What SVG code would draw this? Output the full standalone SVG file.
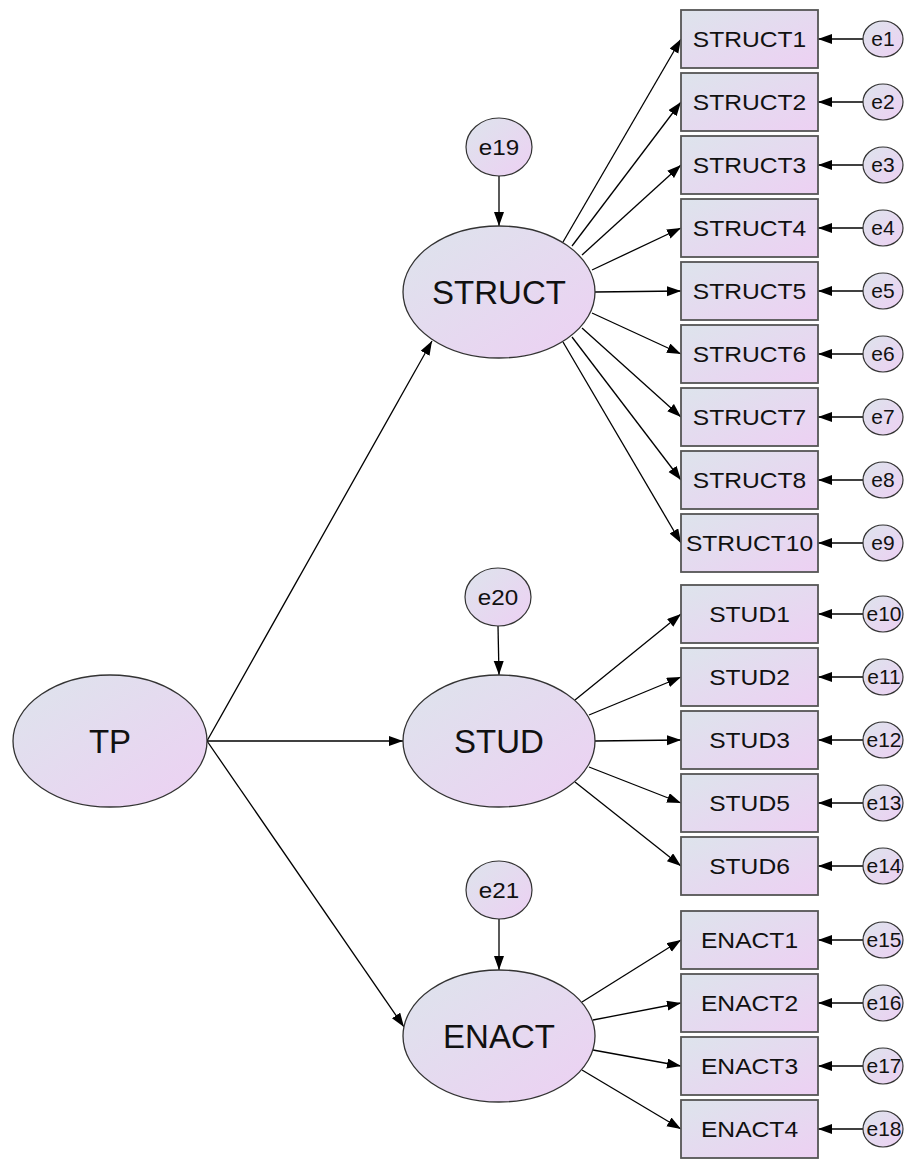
<svg xmlns="http://www.w3.org/2000/svg" width="910" height="1159" viewBox="0 0 910 1159">
<defs>
<linearGradient id="g" x1="0" y1="0" x2="1" y2="1">
<stop offset="0" stop-color="#dde4ec"/>
<stop offset="1" stop-color="#edd0f3"/>
</linearGradient>
<marker id="ah" markerUnits="userSpaceOnUse" markerWidth="16" markerHeight="12" refX="14" refY="5" orient="auto">
<path d="M0,0 L14,5 L0,10 z" fill="#000"/>
</marker>
</defs>
<style>
.lat{fill:url(#g);stroke:#333;stroke-width:1.3}
.obs{fill:url(#g);stroke:#555;stroke-width:1.8}
.err{fill:url(#g);stroke:#333;stroke-width:1.2}
.big{font-family:"Liberation Sans",Arial,sans-serif;font-size:33px;fill:#111;text-anchor:middle}
.lbl{font-family:"Liberation Sans",Arial,sans-serif;font-size:22px;fill:#111;text-anchor:middle}
.el{font-family:"Liberation Sans",Arial,sans-serif;font-size:20px;fill:#111;text-anchor:middle}
.conn path{stroke:#000;stroke-width:1.3;fill:none;marker-end:url(#ah)}
</style>
<g id="connectors" class="conn">
<path d="M207,741 L432,341"/>
<path d="M207,741 L403,741"/>
<path d="M207,741 L404,1027"/>
<path d="M499,175 L499,226"/>
<path d="M498,626 L499,675"/>
<path d="M499,919 L499,970"/>
<path d="M563,242 L681,39"/>
<path d="M572,246 L681,102"/>
<path d="M582,255 L681,165"/>
<path d="M592,270 L681,228"/>
<path d="M595,292 L681,291"/>
<path d="M592,313 L681,354"/>
<path d="M582,328 L681,417"/>
<path d="M572,337 L681,480"/>
<path d="M563,342 L681,543"/>
<path d="M575,700 L681,614"/>
<path d="M589,715 L681,677"/>
<path d="M595,741 L681,740"/>
<path d="M589,767 L681,803"/>
<path d="M575,782 L681,866"/>
<path d="M582,1002 L681,940"/>
<path d="M593,1020 L681,1003"/>
<path d="M593,1050 L681,1066"/>
<path d="M582,1070 L681,1129"/>
<path d="M863,39 L818,39"/>
<path d="M863,102 L818,102"/>
<path d="M863,165 L818,165"/>
<path d="M863,228 L818,228"/>
<path d="M863,291 L818,291"/>
<path d="M863,354 L818,354"/>
<path d="M863,417 L818,417"/>
<path d="M863,480 L818,480"/>
<path d="M863,543 L818,543"/>
<path d="M863,614 L818,614"/>
<path d="M863,677 L818,677"/>
<path d="M863,740 L818,740"/>
<path d="M863,803 L818,803"/>
<path d="M863,866 L818,866"/>
<path d="M863,940 L818,940"/>
<path d="M863,1003 L818,1003"/>
<path d="M863,1066 L818,1066"/>
<path d="M863,1129 L818,1129"/>
</g>
<g id="TP"><ellipse class="lat" cx="110" cy="741" rx="97" ry="66"/><text class="big" x="110" y="753">TP</text></g>
<g id="STRUCT"><ellipse class="lat" cx="499" cy="292" rx="96" ry="66"/><text class="big" x="499" y="304">STRUCT</text></g>
<g id="STUD"><ellipse class="lat" cx="499" cy="741" rx="96" ry="66"/><text class="big" x="499" y="753">STUD</text></g>
<g id="ENACT"><ellipse class="lat" cx="499" cy="1036" rx="96" ry="66"/><text class="big" x="499" y="1048">ENACT</text></g>
<g id="e19"><ellipse class="err" cx="499" cy="147" rx="33" ry="29"/><text class="lbl" transform="translate(499,155) scale(1.1,1)">e19</text></g>
<g id="e20"><ellipse class="err" cx="498" cy="597" rx="33" ry="29"/><text class="lbl" transform="translate(498,605) scale(1.1,1)">e20</text></g>
<g id="e21"><ellipse class="err" cx="499" cy="890" rx="33" ry="29"/><text class="lbl" transform="translate(499,898) scale(1.1,1)">e21</text></g>
<g id="STRUCT1"><rect class="obs" x="681" y="10" width="137" height="58"/><text class="lbl" transform="translate(749.5,47) scale(1.12,1)">STRUCT1</text></g>
<g id="STRUCT2"><rect class="obs" x="681" y="73" width="137" height="58"/><text class="lbl" transform="translate(749.5,110) scale(1.12,1)">STRUCT2</text></g>
<g id="STRUCT3"><rect class="obs" x="681" y="136" width="137" height="58"/><text class="lbl" transform="translate(749.5,173) scale(1.12,1)">STRUCT3</text></g>
<g id="STRUCT4"><rect class="obs" x="681" y="199" width="137" height="58"/><text class="lbl" transform="translate(749.5,236) scale(1.12,1)">STRUCT4</text></g>
<g id="STRUCT5"><rect class="obs" x="681" y="262" width="137" height="58"/><text class="lbl" transform="translate(749.5,299) scale(1.12,1)">STRUCT5</text></g>
<g id="STRUCT6"><rect class="obs" x="681" y="325" width="137" height="58"/><text class="lbl" transform="translate(749.5,362) scale(1.12,1)">STRUCT6</text></g>
<g id="STRUCT7"><rect class="obs" x="681" y="388" width="137" height="58"/><text class="lbl" transform="translate(749.5,425) scale(1.12,1)">STRUCT7</text></g>
<g id="STRUCT8"><rect class="obs" x="681" y="451" width="137" height="58"/><text class="lbl" transform="translate(749.5,488) scale(1.12,1)">STRUCT8</text></g>
<g id="STRUCT10"><rect class="obs" x="681" y="514" width="137" height="58"/><text class="lbl" transform="translate(749.5,551) scale(1.12,1)">STRUCT10</text></g>
<g id="STUD1"><rect class="obs" x="681" y="585" width="137" height="58"/><text class="lbl" transform="translate(749.5,622) scale(1.12,1)">STUD1</text></g>
<g id="STUD2"><rect class="obs" x="681" y="648" width="137" height="58"/><text class="lbl" transform="translate(749.5,685) scale(1.12,1)">STUD2</text></g>
<g id="STUD3"><rect class="obs" x="681" y="711" width="137" height="58"/><text class="lbl" transform="translate(749.5,748) scale(1.12,1)">STUD3</text></g>
<g id="STUD5"><rect class="obs" x="681" y="774" width="137" height="58"/><text class="lbl" transform="translate(749.5,811) scale(1.12,1)">STUD5</text></g>
<g id="STUD6"><rect class="obs" x="681" y="837" width="137" height="58"/><text class="lbl" transform="translate(749.5,874) scale(1.12,1)">STUD6</text></g>
<g id="ENACT1"><rect class="obs" x="681" y="911" width="137" height="58"/><text class="lbl" transform="translate(749.5,948) scale(1.12,1)">ENACT1</text></g>
<g id="ENACT2"><rect class="obs" x="681" y="974" width="137" height="58"/><text class="lbl" transform="translate(749.5,1011) scale(1.12,1)">ENACT2</text></g>
<g id="ENACT3"><rect class="obs" x="681" y="1037" width="137" height="58"/><text class="lbl" transform="translate(749.5,1074) scale(1.12,1)">ENACT3</text></g>
<g id="ENACT4"><rect class="obs" x="681" y="1100" width="137" height="58"/><text class="lbl" transform="translate(749.5,1137) scale(1.12,1)">ENACT4</text></g>
<g id="e1"><ellipse class="err" cx="883" cy="39" rx="20" ry="18"/><text class="el" transform="translate(883,46) scale(1.05,1)">e1</text></g>
<g id="e2"><ellipse class="err" cx="883" cy="102" rx="20" ry="18"/><text class="el" transform="translate(883,109) scale(1.05,1)">e2</text></g>
<g id="e3"><ellipse class="err" cx="883" cy="165" rx="20" ry="18"/><text class="el" transform="translate(883,172) scale(1.05,1)">e3</text></g>
<g id="e4"><ellipse class="err" cx="883" cy="228" rx="20" ry="18"/><text class="el" transform="translate(883,235) scale(1.05,1)">e4</text></g>
<g id="e5"><ellipse class="err" cx="883" cy="291" rx="20" ry="18"/><text class="el" transform="translate(883,298) scale(1.05,1)">e5</text></g>
<g id="e6"><ellipse class="err" cx="883" cy="354" rx="20" ry="18"/><text class="el" transform="translate(883,361) scale(1.05,1)">e6</text></g>
<g id="e7"><ellipse class="err" cx="883" cy="417" rx="20" ry="18"/><text class="el" transform="translate(883,424) scale(1.05,1)">e7</text></g>
<g id="e8"><ellipse class="err" cx="883" cy="480" rx="20" ry="18"/><text class="el" transform="translate(883,487) scale(1.05,1)">e8</text></g>
<g id="e9"><ellipse class="err" cx="883" cy="543" rx="20" ry="18"/><text class="el" transform="translate(883,550) scale(1.05,1)">e9</text></g>
<g id="e10"><ellipse class="err" cx="883" cy="614" rx="20" ry="18"/><text class="el" transform="translate(884,621) scale(1.05,1)">e10</text></g>
<g id="e11"><ellipse class="err" cx="883" cy="677" rx="20" ry="18"/><text class="el" transform="translate(884,684) scale(1.05,1)">e11</text></g>
<g id="e12"><ellipse class="err" cx="883" cy="740" rx="20" ry="18"/><text class="el" transform="translate(884,747) scale(1.05,1)">e12</text></g>
<g id="e13"><ellipse class="err" cx="883" cy="803" rx="20" ry="18"/><text class="el" transform="translate(884,810) scale(1.05,1)">e13</text></g>
<g id="e14"><ellipse class="err" cx="883" cy="866" rx="20" ry="18"/><text class="el" transform="translate(884,873) scale(1.05,1)">e14</text></g>
<g id="e15"><ellipse class="err" cx="883" cy="940" rx="20" ry="18"/><text class="el" transform="translate(884,947) scale(1.05,1)">e15</text></g>
<g id="e16"><ellipse class="err" cx="883" cy="1003" rx="20" ry="18"/><text class="el" transform="translate(884,1010) scale(1.05,1)">e16</text></g>
<g id="e17"><ellipse class="err" cx="883" cy="1066" rx="20" ry="18"/><text class="el" transform="translate(884,1073) scale(1.05,1)">e17</text></g>
<g id="e18"><ellipse class="err" cx="883" cy="1129" rx="20" ry="18"/><text class="el" transform="translate(884,1136) scale(1.05,1)">e18</text></g>
</svg>
